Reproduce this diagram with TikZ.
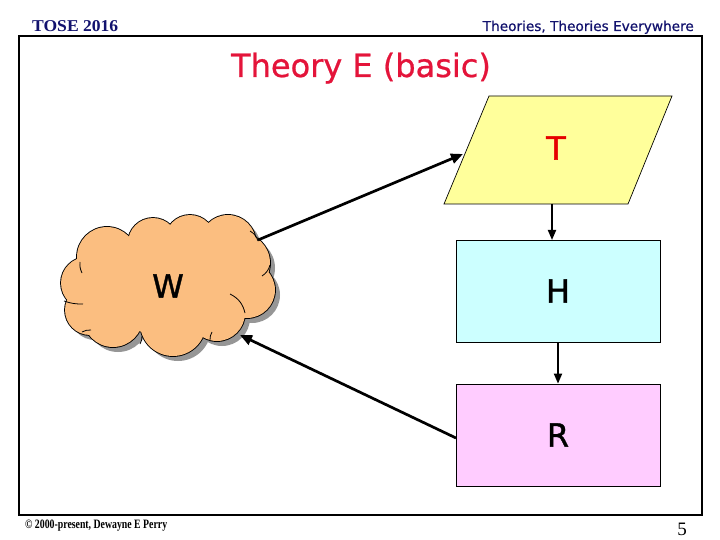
\documentclass[tikz,border=0pt]{standalone}
\usepackage{fontspec}
\setmainfont{Liberation Serif}
\newfontfamily\comicf{DejaVu Sans}
\newfontfamily\comicsb[FakeBold=1.2]{DejaVu Sans}
\newfontfamily\comicmb[FakeBold=0.7]{DejaVu Sans}
\usetikzlibrary{arrows.meta,calc}
\definecolor{navyc}{RGB}{18,18,110}
\definecolor{titlered}{RGB}{228,20,58}
\definecolor{tred}{RGB}{230,0,0}
\definecolor{tyellow}{RGB}{255,255,155}
\definecolor{hcyan}{RGB}{204,255,255}
\definecolor{rpink}{RGB}{255,204,255}
\definecolor{cloudc}{RGB}{251,190,128}
\definecolor{shadowc}{RGB}{150,150,150}
\tikzset{
  letter/.style={font=\comicsb\fontsize{32bp}{36bp}\selectfont, inner sep=0pt},
  boxnode/.style={draw=black, line width=0.7bp, minimum width=204bp, minimum height=102bp, inner sep=0pt},
  bigarrow/.style={line width=2.7bp, -{Triangle[length=12bp,width=10bp]}},
  smallarrow/.style={line width=1.8bp, -{Triangle[length=10bp,width=8bp]}},
  innerarc/.style={line width=0.8bp},
}
\begin{document}
\begin{tikzpicture}[x=1bp,y=-1bp]
\useasboundingbox (0,0) rectangle (720,540);
\fill[white] (0,0) rectangle (720,540);
% frame
\draw[line width=2.2bp] (19,36) rectangle (702,515);
% header / footer
\node[anchor=base west, inner sep=0pt, text=navyc] (hdl) at (32,32)
  {\resizebox{86bp}{11bp}{\bfseries TOSE 2016}};
\node[anchor=base east, inner sep=0pt, text=navyc] (hdr) at (694,31)
  {\resizebox{211bp}{!}{\comicmb Theories, Theories Everywhere}};
\node[anchor=base, inner sep=0pt, text=titlered, font=\comicmb\fontsize{32bp}{36bp}\selectfont] (title) at (361,77)
  {Theory E (basic)};
\node[anchor=base west, inner sep=0pt] (foot) at (25,528)
  {\resizebox{142bp}{8.5bp}{\bfseries © 2000-present, Dewayne E Perry}};
\node[anchor=base, inner sep=0pt, font=\fontsize{19bp}{20bp}\selectfont] (pnum) at (682,535) {5};
% cloud
\def\cloudcircles{107/257/30, 153/243/25, 190/240/25, 228/243/28, 240/263/30, 247/290/28, 217/313/28, 173/323/33, 113/317/30, 90/310/25, 87/283/26}
\begin{scope}[shift={(5,5)}]
\foreach \cx/\cy/\r in \cloudcircles {
  \fill[shadowc] (\cx,\cy) circle[radius=\r bp];
}
\fill[shadowc] (168,285) ellipse[x radius=75bp, y radius=50bp];
\end{scope}
\foreach \cx/\cy/\r in \cloudcircles {
  \draw[line width=1.8bp] (\cx,\cy) circle[radius=\r bp];
}
\foreach \cx/\cy/\r in \cloudcircles {
  \fill[cloudc] (\cx,\cy) circle[radius=\r bp];
}
\fill[cloudc] (168,285) ellipse[x radius=75bp, y radius=50bp];
% inner arcs of the cloud
\draw[innerarc] (250,231) to[bend left=20] (258,241);
\draw[innerarc] (270,265) to[bend left=20] (262,276);
\draw[innerarc] (230,294) to[bend left=25] (245,313);
\draw[innerarc] (210,340) to[bend left=15] (212,332);
\draw[innerarc] (140,344) to[bend right=15] (142,336);
\draw[innerarc] (82,332) to[bend left=15] (91,330);
\draw[innerarc] (64,301) to[bend right=10] (83,304);
\draw[innerarc] (80,262) to[bend right=15] (82,273);
\node[letter] (W) at (168,286) {W};
% T parallelogram
\draw[fill=tyellow, line width=0.7bp] (444,204) -- (628,204) -- (672,96) -- (489,96) -- cycle;
\node[letter, text=tred] (T) at (556,148) {T};
% H and R boxes
\node[boxnode, fill=hcyan, font=\comicsb\fontsize{32bp}{36bp}\selectfont] (H) at (558,291) {H};
\node[boxnode, fill=rpink, font=\comicsb\fontsize{32bp}{36bp}\selectfont] (R) at (558,435) {R};
% connector coordinates
\coordinate (wt) at (258,240);
\coordinate (tin) at (463,154);
\coordinate (rout) at (456,438);
\coordinate (wr) at (240,335);
\coordinate (tb) at (552,204);
\coordinate (ht) at (552,240);
% connectors
\draw[bigarrow] (wt) -- (tin);
\draw[bigarrow] (rout) -- (wr);
\draw[smallarrow] (tb) -- (ht);
\draw[smallarrow] (H.south) -- (R.north);
\end{tikzpicture}
\end{document}
